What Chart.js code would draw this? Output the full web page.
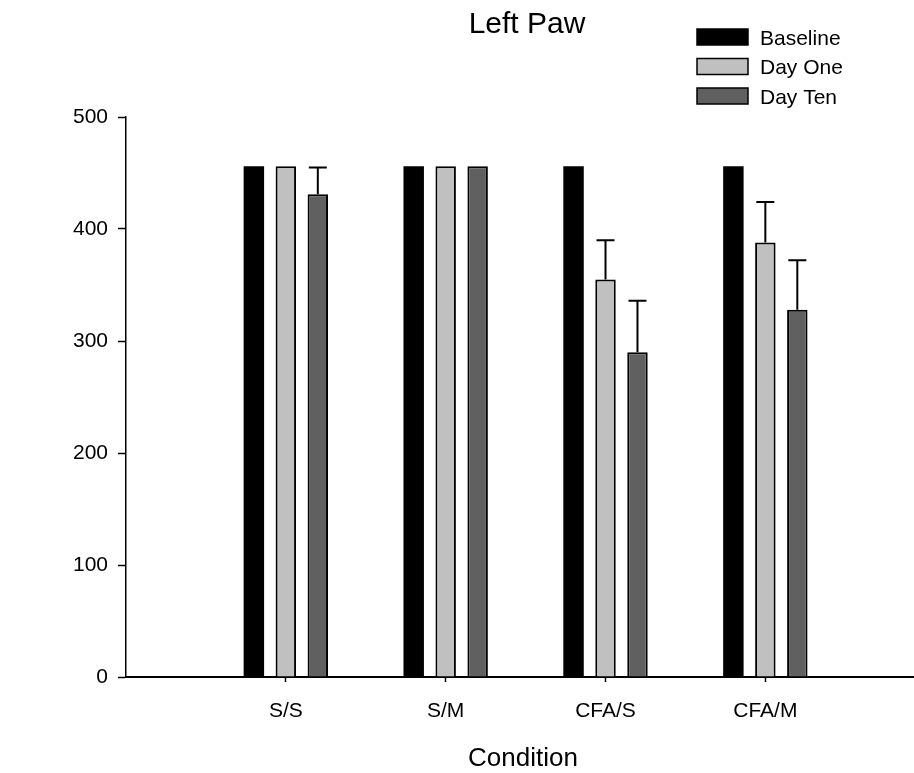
<!DOCTYPE html>
<html>
<head>
<meta charset="utf-8">
<script src="https://cdn.jsdelivr.net/npm/chart.js@4/dist/chart.umd.min.js"></script>
<style>
  html, body { margin: 0; padding: 0; background: #fff; }
  #wrap { width: 914px; height: 773px; }
</style>
</head>
<body>
<div id="wrap"><canvas id="chart"></canvas></div>
<script>
const categories = ["S/S", "S/M", "CFA/S", "CFA/M"];
const baseline = [456, 456, 456, 456];
const dayOne = [456, 456, 355, 388];
const dayTen = [431, 456, 290, 328];
const dayOneErr = [0, 0, 35, 36];
const dayTenErr = [24, 0, 46, 44];
const yTicks = [0, 100, 200, 300, 400, 500];

const FONT = "'Liberation Sans', Arial, sans-serif";

const toPoints = (values) => values.map((v, i) => ({ x: i + 1, y: v }));

// upward-only error bars with a cap
const errorBars = {
  id: "errorBars",
  afterDatasetsDraw(chart) {
    const { ctx } = chart;
    const yScale = chart.scales.y;
    chart.data.datasets.forEach((ds, di) => {
      if (!ds.errors) return;
      const meta = chart.getDatasetMeta(di);
      ds.errors.forEach((err, i) => {
        if (!err) return;
        const bar = meta.data[i];
        const top = yScale.getPixelForValue(ds.data[i].y + err);
        ctx.save();
        ctx.strokeStyle = "#000";
        ctx.lineWidth = 2;
        ctx.beginPath();
        ctx.moveTo(bar.x, bar.y);
        ctx.lineTo(bar.x, top);
        ctx.moveTo(bar.x - 9, top);
        ctx.lineTo(bar.x + 9, top);
        ctx.stroke();
        ctx.restore();
      });
    });
  },
};

// title, x-axis title and the boxed legend at the top right
const decorations = {
  id: "decorations",
  afterDraw(chart) {
    const { ctx } = chart;
    ctx.save();
    ctx.fillStyle = "#000";
    ctx.textAlign = "center";
    ctx.textBaseline = "alphabetic";
    ctx.font = `30px ${FONT}`;
    ctx.fillText("Left Paw", 527, 33);
    ctx.font = `26px ${FONT}`;
    ctx.fillText("Condition", 523, 766);

    ctx.textAlign = "left";
    ctx.textBaseline = "middle";
    ctx.font = `21px ${FONT}`;
    chart.data.datasets.forEach((ds, i) => {
      const y = 29 + i * 29.5;
      ctx.fillStyle = ds.backgroundColor;
      ctx.fillRect(697, y, 51, 16);
      ctx.strokeStyle = "#000";
      ctx.lineWidth = 1.5;
      ctx.strokeRect(697, y, 51, 16);
      ctx.fillStyle = "#000";
      ctx.fillText(ds.label, 760, y + 10);
    });
    ctx.restore();
  },
};

new Chart(document.getElementById("chart"), {
  type: "bar",
  data: {
    datasets: [
      {
        label: "Baseline",
        data: toPoints(baseline),
        backgroundColor: "#000000",
        borderColor: "#000000",
        borderWidth: 0,
      },
      {
        label: "Day One",
        data: toPoints(dayOne),
        errors: dayOneErr,
        backgroundColor: "#c0c0c0",
        borderColor: "#000000",
        borderWidth: 2,
      },
      {
        label: "Day Ten",
        data: toPoints(dayTen),
        errors: dayTenErr,
        backgroundColor: "#606060",
        borderColor: "#000000",
        borderWidth: 2,
      },
    ],
  },
  options: {
    responsive: true,
    maintainAspectRatio: false,
    animation: false,
    categoryPercentage: 0.6,
    barPercentage: 0.64,
    layout: { padding: { top: 117, right: 0, bottom: 0, left: 0 } },
    plugins: {
      legend: { display: false },
      title: { display: false },
      tooltip: { enabled: false },
    },
    scales: {
      x: {
        type: "linear",
        min: 0,
        max: 4.93,
        offset: false,
        afterBuildTicks: (scale) => {
          scale.ticks = categories.map((_, i) => ({ value: i + 1 }));
        },
        afterFit: (scale) => {
          scale.height = 96;
        },
        grid: {
          offset: false,
          drawOnChartArea: false,
          tickLength: 5,
          tickColor: "#000",
          tickWidth: 1.5,
        },
        border: { color: "#000", width: 2 },
        ticks: {
          padding: 17,
          color: "#000",
          font: { family: FONT, size: 21 },
          maxRotation: 0,
          callback: (v) => categories[v - 1] ?? "",
        },
      },
      y: {
        min: 0,
        max: 500,
        afterBuildTicks: (scale) => {
          scale.ticks = yTicks.map((v) => ({ value: v }));
        },
        afterFit: (scale) => {
          scale.width = 126;
        },
        grid: {
          drawOnChartArea: false,
          tickLength: 8,
          tickColor: "#000",
          tickWidth: 1.5,
        },
        border: { color: "#000", width: 1.5 },
        ticks: {
          padding: 10,
          color: "#000",
          font: { family: FONT, size: 21 },
        },
      },
    },
  },
  plugins: [errorBars, decorations],
});
</script>
</body>
</html>
